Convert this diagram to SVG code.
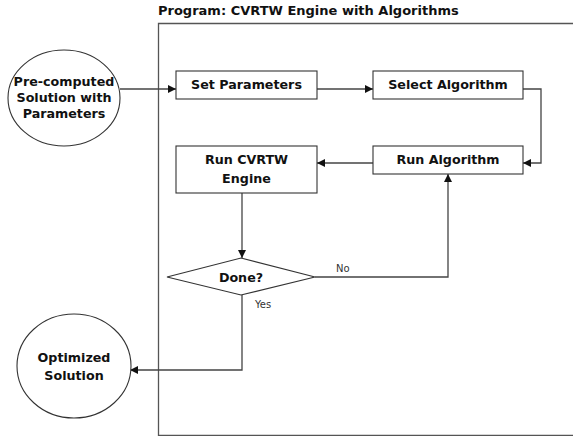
<svg xmlns="http://www.w3.org/2000/svg" width="573" height="436" viewBox="0 0 573 436">
<defs>
<style>
.n{fill:#fff;stroke:#333;stroke-width:1.1}
.t{font-family:"DejaVu Sans",sans-serif;font-weight:bold;font-size:12.7px;fill:#111;text-anchor:middle}
.l{font-family:"DejaVu Sans",sans-serif;font-size:10px;fill:#333}
.c{fill:none;stroke:#444;stroke-width:1.3}
</style>
<marker id="a" viewBox="0 0 10 10" refX="10" refY="5" markerWidth="8" markerHeight="8" markerUnits="userSpaceOnUse" orient="auto"><path d="M0,0L10,5L0,10z" fill="#111"/></marker>
</defs>
<rect width="573" height="436" fill="#fff"/>
<g id="container">
<path d="M573,23.5H158.5V435.5H573" fill="none" stroke="#555" stroke-width="1.3"/>
<text x="158" y="15" style="font-family:'DejaVu Sans',sans-serif;font-weight:bold;font-size:13px;fill:#111">Program: CVRTW Engine with Algorithms</text>
</g>
<g id="connectors">
<path class="c" d="M120,89H176" marker-end="url(#a)"/>
<path class="c" d="M317,89H373" marker-end="url(#a)"/>
<path class="c" d="M523,89H541V163H523" marker-end="url(#a)"/>
<path class="c" d="M373,163H317" marker-end="url(#a)"/>
<path class="c" d="M242,193V258" marker-end="url(#a)"/>
<path class="c" d="M315,277H448V174" marker-end="url(#a)"/>
<path class="c" d="M242,295V370H130" marker-end="url(#a)"/>
<text class="l" x="336" y="272">No</text>
<text class="l" x="255" y="308">Yes</text>
</g>
<g id="precomputed">
<ellipse class="n" cx="64" cy="98" rx="56" ry="48"/>
<text class="t" x="64" y="86">Pre-computed</text>
<text class="t" x="64" y="102">Solution with</text>
<text class="t" x="64" y="118">Parameters</text>
</g>
<g id="setparams">
<rect class="n" x="176" y="71" width="141" height="28"/>
<text class="t" x="246.5" y="89">Set Parameters</text>
</g>
<g id="selectalg">
<rect class="n" x="373" y="71" width="150" height="28"/>
<text class="t" x="448" y="89">Select Algorithm</text>
</g>
<g id="runalg">
<rect class="n" x="373" y="146" width="150" height="28"/>
<text class="t" x="448" y="164">Run Algorithm</text>
</g>
<g id="runengine">
<rect class="n" x="176" y="146" width="141" height="47"/>
<text class="t" x="246.5" y="164">Run CVRTW</text>
<text class="t" x="246.5" y="183">Engine</text>
</g>
<g id="done">
<path class="n" d="M241,258L315,277L241,295L167,277z"/>
<text class="t" x="241" y="282">Done?</text>
</g>
<g id="optimized">
<ellipse class="n" cx="74" cy="366" rx="57" ry="52"/>
<text class="t" x="74" y="362">Optimized</text>
<text class="t" x="74" y="380">Solution</text>
</g>
</svg>
